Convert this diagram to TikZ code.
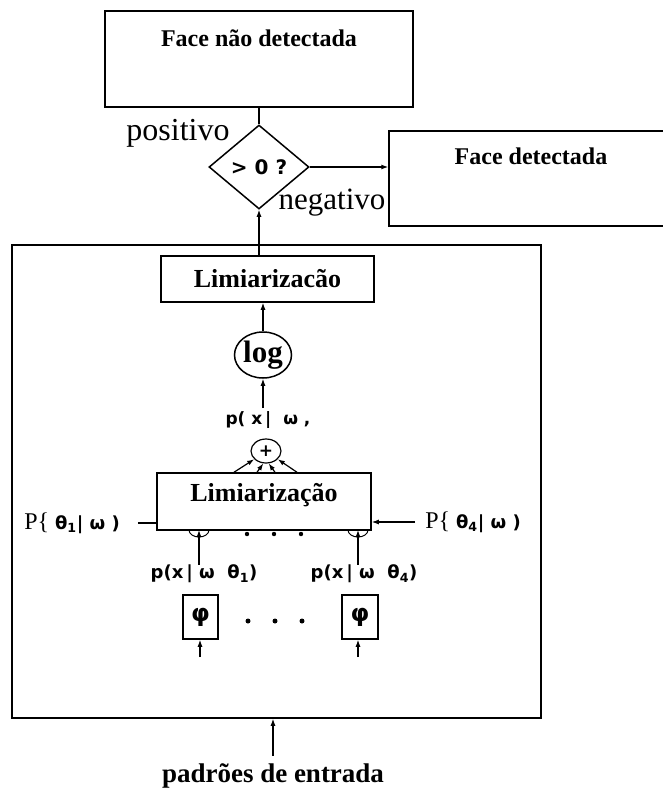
\documentclass[tikz,border=0pt]{standalone}
\usepackage{fontspec}
\setmainfont{Liberation Serif}
\newfontfamily\rotfont{DejaVu Sans}
\usetikzlibrary{arrows.meta, shapes.geometric, calc}

\tikzset{
  caixa/.style={draw, line width=1.5pt, inner sep=0pt},
  seta/.style={line width=1.2pt, -{Latex[length=7pt,width=5pt]}},
  titulo/.style={font=\bfseries\fontsize{24}{28}\selectfont, inner sep=0pt},
  rotulo/.style={font=\rotfont\bfseries\fontsize{18}{20}\selectfont, inner sep=0pt},
}

\begin{document}
\begin{tikzpicture}[x=1pt, y=-1pt]
    \useasboundingbox (0,0) rectangle (662,796);

    % 1. caixas de saida e decisao
    \node[caixa, minimum width=308, minimum height=96] (naodet) at (259,59) {};
    \node[titulo] (naodettxt) at (259,38) {Face não detectada};
    \node[caixa, minimum width=279, minimum height=95] (det) at (528.5,178.5) {};
    \node[titulo] (dettxt) at (531,156) {Face detectada};
    \node[caixa, diamond, minimum width=100, minimum height=84, aspect=1.19,
          font=\rotfont\bfseries\fontsize{20}{24}\selectfont] (decisao) at (259,167) {> 0 ?};
    \node[font=\fontsize{32}{36}\selectfont, inner sep=0pt] (pos) at (178,133) {positivo};
    \node[font=\fontsize{31}{36}\selectfont, inner sep=0pt] (neg) at (332,203) {negativo};

    % 2. caixa grande do classificador
    \node[caixa, minimum width=529, minimum height=473] (sistema) at (276.5,481.5) {};
    \node[caixa, minimum width=213, minimum height=46,
          font=\bfseries\fontsize{26}{30}\selectfont] (lim1) at (267.5,279) {Limiarizacão};
    \node[caixa, ellipse, minimum width=57, minimum height=46,
          font=\bfseries\fontsize{31}{34}\selectfont] (log) at (263,355) {log};
    \node[rotulo, font=\rotfont\bfseries\fontsize{17}{20}\selectfont] (psoma) at (268,420)
        {p(\ x\,|\ \ ω\ ,};
    \node[caixa, ellipse, line width=1.2pt, minimum width=30, minimum height=24,
          font=\rotfont\bfseries\fontsize{17}{20}\selectfont] (soma) at (266,451) {+};
    \node[caixa, minimum width=214, minimum height=57] (lim2) at (264,501.5) {};
    \node[font=\bfseries\fontsize{26}{30}\selectfont, inner sep=0pt] (lim2txt) at (264,495) {Limiarização};

    % 3. rotulos das probabilidades
    \node[inner sep=0pt, font=\fontsize{24}{28}\selectfont] (P1) at (72,523)
        {P\{ {\rotfont\bfseries\fontsize{18}{20}\selectfont θ\textsubscript{1}| ω )}};
    \node[inner sep=0pt, font=\fontsize{24}{28}\selectfont] (P4) at (473,522)
        {P\{ {\rotfont\bfseries\fontsize{18}{20}\selectfont θ\textsubscript{4}| ω )}};
    \node[rotulo] (pA) at (204,574) {p(x\,|\ ω\ \ θ\textsubscript{1})};
    \node[rotulo] (pB) at (364,574) {p(x\,|\ ω\ \ θ\textsubscript{4})};

    % 4. blocos phi
    \node[caixa, minimum width=35, minimum height=44,
          font=\rotfont\bfseries\fontsize{24}{28}\selectfont] (fiA) at (200.5,617) {φ};
    \node[caixa, minimum width=36, minimum height=44,
          font=\rotfont\bfseries\fontsize{24}{28}\selectfont] (fiB) at (360,617) {φ};
    \node[font=\bfseries\fontsize{27}{32}\selectfont, inner sep=0pt] (entrada) at (273,776) {padrões de entrada};

    % 5. ligacoes
    \draw[line width=1.2pt] (decisao.north) -- (decisao.north |- naodet.south);
    \draw[seta] (decisao.east) -- (decisao.east -| det.west);
    \draw[seta] (decisao.south |- lim1.north) -- (decisao.south);
    \draw[seta] (log.north) -- (log.north |- lim1.south);
    \coordinate (somaout) at (263,408);
    \draw[seta] (somaout) -- (log.south);
    \draw[seta] ($(lim2.north)+(-30,0)$) -- (soma.215);
    \draw[seta] ($(lim2.north)+(-7,0)$) -- (soma.258);
    \draw[seta] ($(lim2.north)+(11,0)$) -- (soma.282);
    \draw[seta] ($(lim2.north)+(33,0)$) -- (soma.325);
    \draw[line width=1.2pt, shorten <=18pt] (P1.east) -- (P1.east -| lim2.west);
    \draw[seta, shorten <=10pt] (P4.west) -- (P4.west -| lim2.east);

    % 6. entradas da limiarizacao
    \coordinate (bA) at (199,530);
    \coordinate (bB) at (358,530);
    \draw[seta] (bA |- pA.north) -- (bA);
    \draw[seta] (bB |- pB.north) -- (bB);
    \draw[line width=1pt] ($(bA)+(-10,0)$) arc[start angle=180, end angle=0, x radius=10, y radius=7];
    \draw[line width=1pt] ($(bB)+(-10,0)$) arc[start angle=180, end angle=0, x radius=10, y radius=7];
    \foreach \x in {247,274,301}
        \fill (\x,534) circle (2.2);
    \foreach \x in {248,275,302}
        \fill (\x,621) circle (2.5);

    \coordinate (inA) at (200,657);
    \coordinate (inB) at (358,657);
    \draw[seta] (inA) -- (inA |- fiA.south);
    \draw[seta] (inB) -- (inB |- fiB.south);
    \draw[seta, shorten <=8pt] (entrada.north) -- (entrada.north |- sistema.south);

\end{tikzpicture}
\end{document}
